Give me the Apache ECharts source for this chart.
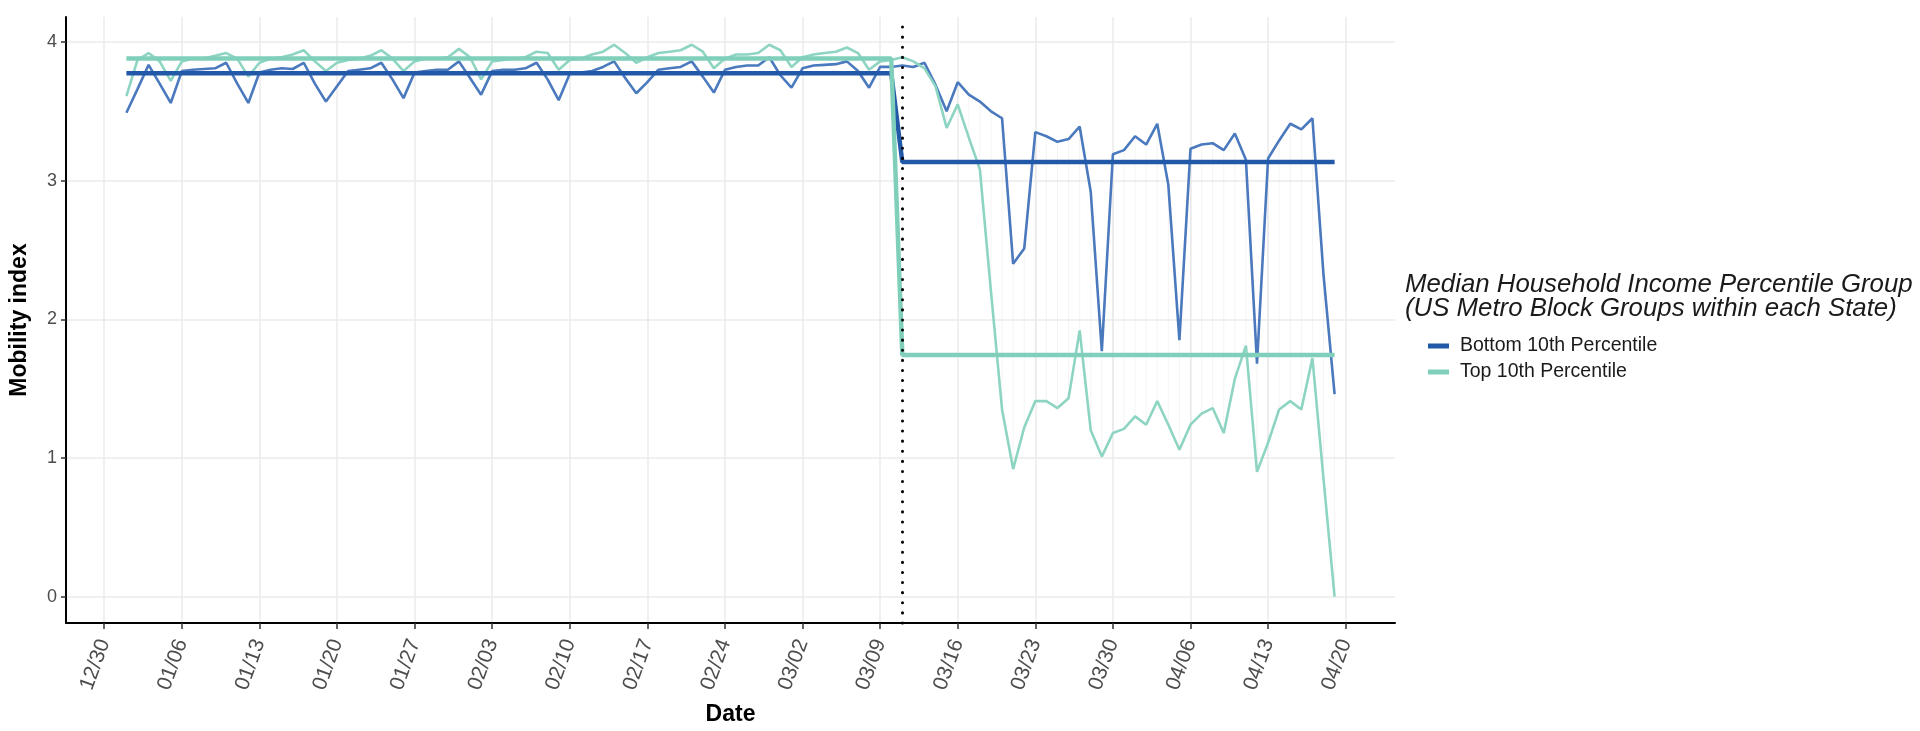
<!DOCTYPE html>
<html>
<head>
<meta charset="utf-8">
<script src="https://cdn.jsdelivr.net/npm/echarts@6.0.0/dist/echarts.min.js"></script>
<style>
  html, body { margin: 0; padding: 0; background: #fff; }
  #chart { width: 1920px; height: 731px; }
</style>
</head>
<body>
<div id="chart"></div>
<script>
// --- data (daily values from 2020-01-01 to 2020-04-19) ---
const firstDay = '2020-01-01';
const breakDate = '2020-03-11';

const bottomDaily = [
  3.49, 3.66, 3.835, 3.70, 3.56, 3.79, 3.80, 3.805, 3.81, 3.85,
  3.70, 3.56, 3.78, 3.80, 3.81, 3.805, 3.85, 3.70, 3.57, 3.68,
  3.79, 3.80, 3.81, 3.85, 3.73, 3.595, 3.78, 3.79, 3.80, 3.80,
  3.86, 3.74, 3.62, 3.79, 3.80, 3.80, 3.81, 3.85, 3.73, 3.58,
  3.77, 3.78, 3.79, 3.82, 3.86, 3.74, 3.63, 3.71, 3.80, 3.81,
  3.82, 3.86, 3.75, 3.635, 3.80, 3.82, 3.83, 3.83, 3.89, 3.76,
  3.67, 3.81, 3.83, 3.835, 3.84, 3.86, 3.79, 3.67, 3.82, 3.82,
  3.83, 3.82, 3.85, 3.69, 3.50, 3.71, 3.62, 3.57, 3.50, 3.45,
  2.40, 2.51, 3.35, 3.32, 3.28, 3.30, 3.39, 2.92, 1.77, 3.19,
  3.22, 3.32, 3.26, 3.41, 2.97, 1.85, 3.23, 3.26, 3.27, 3.22,
  3.34, 3.15, 1.68, 3.16, 3.29, 3.41, 3.37, 3.45, 2.32, 1.46
];

const topDaily = [
  3.61, 3.87, 3.92, 3.86, 3.72, 3.86, 3.88, 3.88, 3.90, 3.92,
  3.88, 3.75, 3.85, 3.88, 3.89, 3.91, 3.94, 3.86, 3.79, 3.85,
  3.87, 3.88, 3.90, 3.94, 3.88, 3.79, 3.86, 3.88, 3.88, 3.89,
  3.95, 3.89, 3.73, 3.86, 3.87, 3.88, 3.89, 3.93, 3.92, 3.80,
  3.87, 3.88, 3.91, 3.93, 3.98, 3.92, 3.85, 3.89, 3.92, 3.93,
  3.94, 3.98, 3.93, 3.81, 3.88, 3.91, 3.91, 3.92, 3.98, 3.94,
  3.82, 3.89, 3.91, 3.92, 3.93, 3.96, 3.92, 3.80, 3.86, 3.87,
  3.89, 3.86, 3.81, 3.68, 3.38, 3.55, 3.31, 3.08, 2.20, 1.35,
  0.92, 1.22, 1.41, 1.41, 1.36, 1.43, 1.92, 1.20, 1.01, 1.18,
  1.21, 1.30, 1.24, 1.41, 1.24, 1.06, 1.24, 1.32, 1.36, 1.18,
  1.57, 1.81, 0.90, 1.11, 1.35, 1.41, 1.35, 1.72, 0.85, 0.00
];

// group means before / from the break date
const bottomMeans = [3.775, 3.134];
const topMeans = [3.88, 1.743];

const weekTicks = [
  '2019-12-30', '2020-01-06', '2020-01-13', '2020-01-20', '2020-01-27',
  '2020-02-03', '2020-02-10', '2020-02-17', '2020-02-24', '2020-03-02',
  '2020-03-09', '2020-03-16', '2020-03-23', '2020-03-30', '2020-04-06',
  '2020-04-13', '2020-04-20'
];
const yTicks = [0, 1, 2, 3, 4];

const seriesNames = ['Bottom 10th Percentile', 'Top 10th Percentile'];
const legendTitle = ['Median Household Income Percentile Group', '(US Metro Block Groups within each State)'];

// --- helpers: x axis is "days since 2019-12-30" ---
const DAY = 864e5;
function utc(s) { const [y, m, d] = s.split('-').map(Number); return Date.UTC(y, m - 1, d); }
const origin = utc(weekTicks[0]);
function dayNum(s) { return Math.round((utc(s) - origin) / DAY); }
function pad(n) { return (n < 10 ? '0' : '') + n; }
function fmtDay(v) { const d = new Date(origin + Math.round(v) * DAY); return pad(d.getUTCMonth() + 1) + '/' + pad(d.getUTCDate()); }

const x0 = dayNum(firstDay);
const brk = dayNum(breakDate);
const days = bottomDaily.map((_, i) => x0 + i);

const bottomLine = days.map((d, i) => [d, bottomDaily[i]]);
const topLine = days.map((d, i) => [d, topDaily[i]]);
const bottomStep = days.map(d => [d, d < brk ? bottomMeans[0] : bottomMeans[1]]);
const topStep = days.map(d => [d, d < brk ? topMeans[0] : topMeans[1]]);
const gaps = days.map((d, i) => [d, bottomDaily[i], topDaily[i]]).filter(r => r[0] >= brk);

const xTicks = weekTicks.map(dayNum);

const BLUE = '#2158a7', BLUE_L = '#4a79be', GREEN = '#7fcfba', GREEN_L = '#8dd5c2';
const FONT = 'Liberation Sans, Arial, sans-serif';

const chart = echarts.init(document.getElementById('chart'));
chart.setOption({
  animation: false,
  backgroundColor: '#fff',
  textStyle: { fontFamily: FONT },
  grid: { left: 65, right: 525, top: 17, bottom: 106 },
  xAxis: {
    type: 'value',
    min: -3.45,
    max: 116.45,
    name: 'Date', nameLocation: 'middle', nameGap: 80,
    nameTextStyle: { fontSize: 23, fontWeight: 'bold', color: '#000' },
    axisLine: { onZero: false, lineStyle: { color: '#000', width: 2 } },
    axisTick: { customValues: xTicks, length: 6, lineStyle: { color: '#333', width: 1.5 } },
    axisLabel: { customValues: xTicks, formatter: fmtDay, rotate: 70, fontSize: 21, color: '#4d4d4d', margin: 17, hideOverlap: false },
    splitLine: { show: true, lineStyle: { color: '#ebebeb', width: 1.5 } }
  },
  yAxis: {
    type: 'value', min: -0.19, max: 4.18,
    name: 'Mobility index', nameLocation: 'middle', nameGap: 35, nameRotate: 90,
    nameTextStyle: { fontSize: 23, fontWeight: 'bold', color: '#000' },
    axisLine: { show: true, onZero: false, lineStyle: { color: '#000', width: 2 } },
    axisTick: { show: true, customValues: yTicks, length: 5, lineStyle: { color: '#333', width: 1.5 } },
    axisLabel: { customValues: yTicks, fontSize: 18, color: '#4d4d4d', margin: 9 },
    splitLine: { show: true, lineStyle: { color: '#ebebeb', width: 1.5 } }
  },
  legend: {
    data: seriesNames, orient: 'vertical', left: 1423, top: 331,
    icon: 'rect', itemWidth: 21, itemHeight: 5, itemGap: 6,
    textStyle: { fontSize: 19.5, color: '#1a1a1a', padding: [0, 0, 0, 6] }
  },
  graphic: legendTitle.map((t, i) => ({
    type: 'text', left: 1405, top: 272 + i * 24,
    style: { text: t, fontSize: 25.8, fontStyle: 'italic', fill: '#1a1a1a', fontFamily: FONT }
  })),
  series: [
    {
      type: 'custom', name: 'gap', silent: true, data: gaps, z: 1,
      encode: { x: 0, y: [1, 2] },
      renderItem: (params, api) => {
        const a = api.coord([api.value(0), api.value(1)]);
        const b = api.coord([api.value(0), api.value(2)]);
        return { type: 'line', shape: { x1: a[0], y1: a[1], x2: b[0], y2: b[1] }, style: { stroke: 'rgba(205,205,205,0.22)', lineWidth: 1 } };
      }
    },
    { type: 'line', name: 'bottom-daily', data: bottomLine, showSymbol: false, z: 2,
      lineStyle: { color: BLUE_L, width: 2.6 }, itemStyle: { color: BLUE_L } },
    { type: 'line', name: 'top-daily', data: topLine, showSymbol: false, z: 2,
      lineStyle: { color: GREEN_L, width: 2.6 }, itemStyle: { color: GREEN_L } },
    { type: 'line', name: seriesNames[0], data: bottomStep, showSymbol: false, z: 3,
      lineStyle: { color: BLUE, width: 4.5 }, itemStyle: { color: BLUE } },
    { type: 'line', name: seriesNames[1], data: topStep, showSymbol: false, z: 3,
      lineStyle: { color: GREEN, width: 4.5 }, itemStyle: { color: GREEN },
      markLine: {
        silent: true, symbol: ['none', 'none'], label: { show: false },
        lineStyle: { color: '#000', type: [0.1, 10], width: 3, cap: 'round' },
        data: [{ xAxis: brk }]
      }
    }
  ]
});
</script>
</body>
</html>
